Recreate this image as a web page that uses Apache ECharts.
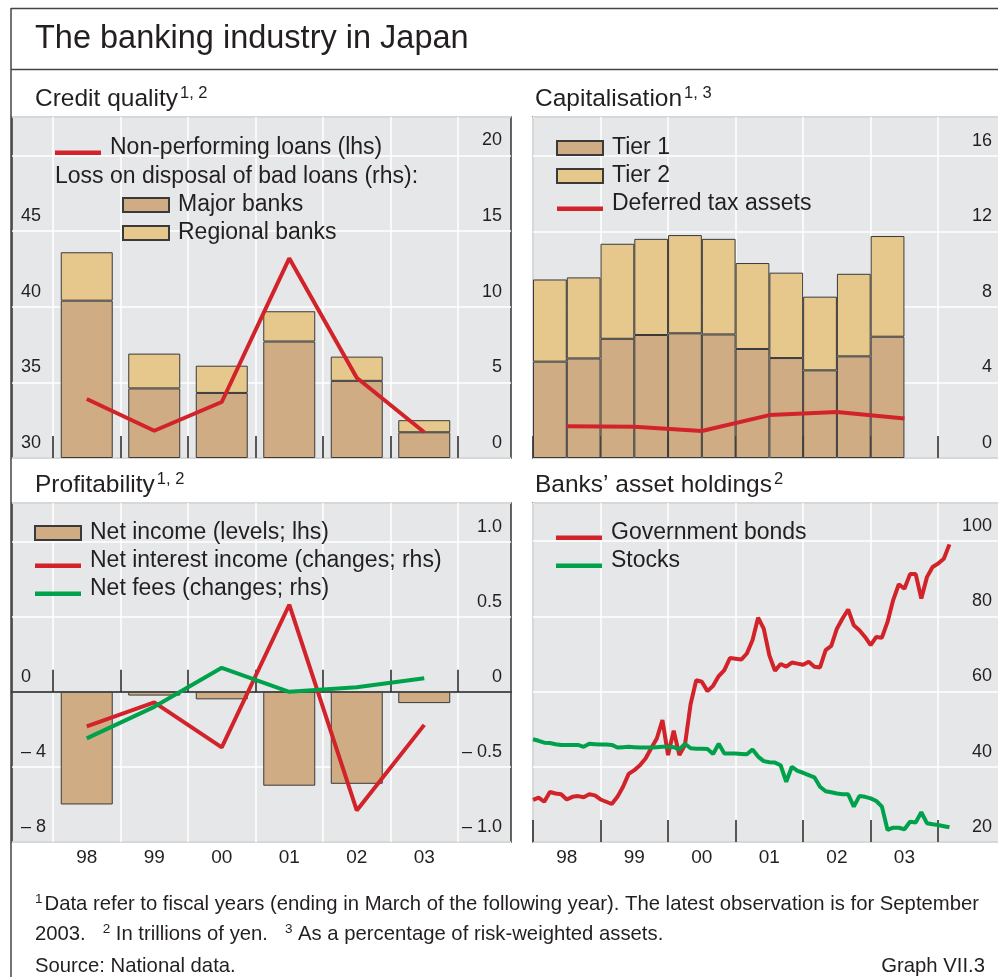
<!DOCTYPE html>
<html>
<head>
<meta charset="utf-8">
<script src="https://cdn.jsdelivr.net/npm/echarts@6/dist/echarts.min.js"></script>
<style>
html,body{margin:0;padding:0;background:#fff;}
#chart{width:998px;height:977px;}
</style>
</head>
<body>
<div id="chart"></div>
<script>
// ---------------- DATA ----------------
// Credit quality (fiscal years)
const years = ['98', '99', '00', '01', '02', '03'];
const majorBanksLoss = [10.4, 4.6, 4.3, 7.7, 5.1, 1.7];      // rhs, trillions of yen
const regionalBanksLoss = [3.2, 2.3, 1.8, 2.0, 1.6, 0.8];    // rhs
const nonPerformingLoans = [33.9, 31.8, 33.7, 43.2, 35.3, 31.7]; // lhs

// Capitalisation (half-years, % of risk-weighted assets)
const halfYears = ['98a', '98b', '99a', '99b', '00a', '00b', '01a', '01b', '02a', '02b', '03a'];
const tier1 = [5.10, 5.27, 6.31, 6.51, 6.60, 6.54, 5.77, 5.29, 4.64, 5.38, 6.42];
const tier2 = [4.35, 4.29, 5.03, 5.09, 5.20, 5.06, 4.55, 4.52, 3.90, 4.37, 5.33];
const deferredTaxAssets = [1.68, 1.65, 1.43, 2.27, 2.44, 2.09]; // fiscal 98..03

// Profitability
const netIncome = [-6.0, -0.2, -0.4, -5.0, -4.9, -0.6];          // lhs levels
const netInterestIncome = [-0.23, -0.07, -0.37, 0.58, -0.79, -0.22]; // rhs changes
const netFees = [-0.31, -0.10, 0.16, 0.00, 0.03, 0.09];          // rhs changes

// Banks' asset holdings (monthly, Jan 1998 - Mar 2004)
const governmentBonds = [31.2,31.8,30.7,33.3,32.9,32.7,31.3,32.0,32.2,31.9,32.7,32.4,
  31.3,30.7,30.1,32.0,34.7,38.1,39.1,40.4,42.2,44.9,47.5,52.4,
  43.1,49.6,43.1,45.8,56.6,63.0,62.6,60.1,61.5,64.1,65.7,68.9,
  68.7,68.5,70.1,73.6,79.6,76.7,69.6,65.5,67.3,66.6,67.7,67.4,
  67.1,67.9,66.6,66.4,71.0,72.1,76.7,79.4,81.8,77.6,76.3,74.5,
  72.3,74.5,74.3,78.5,84.3,88.5,87.3,91.2,91.2,84.7,90.4,93.1,
  94.0,95.3,99.1];
const stocks = [47.3,46.9,46.4,46.3,46.0,45.8,45.8,45.8,45.8,45.3,46.1,46.0,
  45.9,45.9,45.8,45.1,45.2,45.3,45.2,45.1,45.1,45.1,45.2,45.3,
  45.3,45.2,44.6,46.1,44.9,44.8,44.8,44.7,43.4,46.1,43.5,43.5,
  43.5,43.4,43.3,44.6,42.7,41.5,41.2,41.1,40.4,36.0,40.0,38.9,
  38.4,37.8,37.2,34.7,33.5,33.2,32.9,32.7,32.7,29.4,32.2,32.0,
  31.6,30.9,29.4,23.2,23.8,23.8,23.4,25.4,25.2,27.9,25.0,24.7,
  24.5,24.2,23.9];
const firstYear = 1998;

// ---------------- STYLE ----------------
const FONT = '"Liberation Sans", Arial, sans-serif';
const TXT = '#231F20';
const GREY = '#E6E7E8';
const BORDER = '#333333';
const RED = '#D2232A';
const GREEN = '#00A14B';
const TAN1 = '#CFAC84';
const TAN2 = '#E6C78C';
const BAR_EDGE = '#3a3a3a';
const WHITE_LINE = {show: true, lineStyle: {color: '#ffffff', width: 1.5}};
const TICK = {show: true, inside: true, length: 22, interval: 0, lineStyle: {color: '#222', width: 1.5}};
const LINE_ICON = 'path://M0,0M46,14M0,9.5H46V14H0Z';

const XMAX_R = 2004.93;
const R_LEFT = 533, R_WIDTH = 468;
const R_SLOT = R_WIDTH / (XMAX_R - firstYear);

function fmtSigned(v, dec) {
  if (Math.abs(v) < 1e-9) return '0';
  const s = Math.abs(v).toFixed(dec);
  return v < 0 ? '\u2013 ' + s : s;
}
function yLab(fmt) {
  return {show: true, inside: true, margin: 9, fontSize: 18, fontFamily: FONT, color: TXT,
          verticalAlign: 'bottom', lineHeight: 30, showMinLabel: true, formatter: fmt};
}
function boxGrid(left, top, width, height) {
  return {left, top, width, height, show: true, backgroundColor: GREY, borderColor: BORDER,
          borderWidth: 1.5, outerBoundsMode: 'none', containLabel: false};
}
function plainGrid(left, top, width, height) {
  return {left, top, width, height, show: false, outerBoundsMode: 'none', containLabel: false};
}
const noAxisParts = {axisLine: {show: false}, axisTick: {show: false}, splitLine: {show: false}};

const legendBase = {
  orient: 'vertical', itemWidth: 46, itemHeight: 14, itemGap: 0, icon: 'rect', selectedMode: false,
  padding: 0, textStyle: {fontSize: 23, fontFamily: FONT, color: TXT, lineHeight: 28, padding: [0, 0, 0, 4]}
};
const lineItem = name => ({name, icon: LINE_ICON, itemStyle: {borderWidth: 0}});
const barStyle = c => ({color: c, borderColor: BAR_EDGE, borderWidth: 1});
const lineSeries = (name, xi, yi, data, color, z) => ({
  type: 'line', name, xAxisIndex: xi, yAxisIndex: yi, data, symbol: 'none', z,
  lineStyle: {color, width: 4}, itemStyle: {color, borderWidth: 0}
});

const option = {
  animation: false,
  backgroundColor: '#ffffff',
  textStyle: {fontFamily: FONT},
  grid: [
    boxGrid(12, 117, 499, 341),          // 0 credit quality box
    plainGrid(53, 117, 405, 341),        // 1 credit quality data
    boxGrid(R_LEFT, 117, R_WIDTH, 341),  // 2 capitalisation box
    boxGrid(12, 503, 499, 339),          // 3 profitability box
    plainGrid(53, 503, 405, 339),        // 4 profitability data
    boxGrid(R_LEFT, 503, R_WIDTH, 339),  // 5 asset holdings
    plainGrid(R_LEFT, 117, R_SLOT * 6, 341) // 6 capitalisation bars (half-year slots)
  ],
  xAxis: [
    {type: 'value', gridIndex: 0, min: 0, max: 1, show: false},
    {type: 'category', gridIndex: 1, data: years, boundaryGap: true,
     axisLine: {show: false}, axisTick: TICK, axisLabel: {show: false},
     splitLine: Object.assign({interval: 0}, WHITE_LINE)},
    {type: 'value', gridIndex: 2, min: firstYear, max: XMAX_R, interval: 1,
     axisLine: {show: false}, axisTick: TICK, axisLabel: {show: false}, splitLine: WHITE_LINE},
    {type: 'value', gridIndex: 3, min: 0, max: 1,
     axisLine: {show: true, onZero: true, lineStyle: {color: '#1a1a1a', width: 1.5}},
     axisTick: {show: false}, axisLabel: {show: false}, splitLine: {show: false}},
    {type: 'category', gridIndex: 4, data: years, boundaryGap: true,
     axisLine: {show: false}, axisTick: TICK,
     axisLabel: {show: true, interval: 0, margin: 6, fontSize: 19, fontFamily: FONT, color: TXT},
     splitLine: Object.assign({interval: 0}, WHITE_LINE)},
    {type: 'value', gridIndex: 5, min: firstYear, max: XMAX_R, interval: 1,
     axisLine: {show: false}, axisTick: TICK, splitLine: WHITE_LINE,
     axisLabel: {show: true, margin: 6, fontSize: 19, fontFamily: FONT, color: TXT,
       padding: [0, 0, 0, R_SLOT],
       formatter: v => (Math.abs(v - Math.round(v)) < 1e-6 && v < 2004) ? String(Math.round(v)).slice(2) : ''}},
    {type: 'category', gridIndex: 6, data: halfYears.concat(['']), boundaryGap: true, show: false}
  ],
  yAxis: [
    // 0,1 credit quality box axes
    Object.assign({type: 'value', gridIndex: 0, position: 'left', min: 30, max: 52.54, interval: 5,
      axisLabel: yLab(v => v <= 45 ? String(v) : '')}, noAxisParts),
    Object.assign({type: 'value', gridIndex: 0, position: 'right', min: 0, max: 22.54, interval: 5,
      axisLabel: yLab(v => v <= 20 ? String(v) : '')}, noAxisParts, {splitLine: WHITE_LINE}),
    // 2,3 credit quality data axes (hidden)
    {type: 'value', gridIndex: 1, min: 30, max: 52.54, show: false},
    {type: 'value', gridIndex: 1, min: 0, max: 22.54, show: false},
    // 4 capitalisation
    Object.assign({type: 'value', gridIndex: 2, position: 'right', min: 0, max: 18.05, interval: 4,
      axisLabel: yLab(v => v <= 16 ? String(v) : '')}, noAxisParts, {splitLine: WHITE_LINE}),
    // 5,6 profitability box axes
    Object.assign({type: 'value', gridIndex: 3, position: 'left', min: -8, max: 10.06, interval: 4,
      axisLabel: yLab(v => v <= 0 ? fmtSigned(v, 0) : '')}, noAxisParts),
    Object.assign({type: 'value', gridIndex: 3, position: 'right', min: -1, max: 1.2575, interval: 0.5,
      axisLabel: yLab(v => v <= 1.0001 ? fmtSigned(v, 1) : '')}, noAxisParts, {splitLine: WHITE_LINE}),
    // 7,8 profitability data axes (hidden)
    {type: 'value', gridIndex: 4, min: -8, max: 10.06, show: false},
    {type: 'value', gridIndex: 4, min: -1, max: 1.2575, show: false},
    // 9 asset holdings
    Object.assign({type: 'value', gridIndex: 5, position: 'right', min: 20, max: 110.1, interval: 20,
      axisLabel: yLab(v => v <= 100 ? String(v) : '')}, noAxisParts, {splitLine: WHITE_LINE}),
    // 10 capitalisation bars (hidden, same scale as 4)
    {type: 'value', gridIndex: 6, min: 0, max: 18.05, show: false}
  ],
  legend: [
    Object.assign({}, legendBase, {left: 55, top: 134, data: [lineItem('Non-performing loans (lhs)')]}),
    Object.assign({}, legendBase, {left: 122, top: 191, data: ['Major banks', 'Regional banks']}),
    Object.assign({}, legendBase, {left: 556, top: 134, data: ['Tier 1', 'Tier 2', lineItem('Deferred tax assets')]}),
    Object.assign({}, legendBase, {left: 34, top: 519, data: ['Net income (levels; lhs)',
      lineItem('Net interest income (changes; rhs)'), lineItem('Net fees (changes; rhs)')]}),
    Object.assign({}, legendBase, {left: 556, top: 519, data: [lineItem('Government bonds'), lineItem('Stocks')]})
  ],
  series: [
    {type: 'bar', name: 'Major banks', xAxisIndex: 1, yAxisIndex: 3, stack: 'loss', barWidth: '77%',
     data: majorBanksLoss, itemStyle: barStyle(TAN1)},
    {type: 'bar', name: 'Regional banks', xAxisIndex: 1, yAxisIndex: 3, stack: 'loss', barWidth: '77%',
     data: regionalBanksLoss, itemStyle: barStyle(TAN2)},
    lineSeries('Non-performing loans (lhs)', 1, 2, nonPerformingLoans, RED, 3),

    {type: 'bar', name: 'Tier 1', xAxisIndex: 6, yAxisIndex: 10, stack: 'cap', barWidth: '100%',
     data: tier1, itemStyle: barStyle(TAN1)},
    {type: 'bar', name: 'Tier 2', xAxisIndex: 6, yAxisIndex: 10, stack: 'cap', barWidth: '100%',
     data: tier2, itemStyle: barStyle(TAN2)},
    lineSeries('Deferred tax assets', 2, 4, deferredTaxAssets.map((v, i) => [firstYear + 0.5 + i, v]), RED, 3),

    {type: 'bar', name: 'Net income (levels; lhs)', xAxisIndex: 4, yAxisIndex: 7, barWidth: '77%',
     data: netIncome, itemStyle: barStyle(TAN1)},
    lineSeries('Net interest income (changes; rhs)', 4, 8, netInterestIncome, RED, 3),
    lineSeries('Net fees (changes; rhs)', 4, 8, netFees, GREEN, 4),

    lineSeries('Government bonds', 5, 9, governmentBonds.map((v, i) => [firstYear + i / 12, v]), RED, 3),
    lineSeries('Stocks', 5, 9, stocks.map((v, i) => [firstYear + i / 12, v]), GREEN, 4)
  ],
  graphic: [
    {type: 'line', silent: true, shape: {x1: 11, y1: 8, x2: 11, y2: 977}, style: {stroke: '#444', lineWidth: 1.5}},
    {type: 'line', silent: true, shape: {x1: 11, y1: 8.5, x2: 998, y2: 8.5}, style: {stroke: '#444', lineWidth: 1.5}},
    {type: 'line', silent: true, shape: {x1: 11, y1: 69.5, x2: 998, y2: 69.5}, style: {stroke: '#444', lineWidth: 1.5}},
    {type: 'text', x: 35, y: 39.5, silent: true, z: 10,
     style: {text: 'The banking industry in Japan', fontSize: 32.5, fontFamily: FONT, fill: TXT, verticalAlign: 'middle'}},
    ...[['Credit quality', '1, 2', 35, 99], ['Capitalisation', '1, 3', 535, 99],
        ['Profitability', '1, 2', 35, 485], ['Banks\u2019 asset holdings', '2', 535, 485]].map(t => ({
      type: 'text', x: t[2], y: t[3], silent: true, z: 10,
      style: {text: '{m|' + t[0] + '}{s|' + t[1] + '}', fontFamily: FONT, fill: TXT, verticalAlign: 'middle',
        rich: {m: {fontSize: 24.5, lineHeight: 28, fontFamily: FONT, fill: TXT},
               s: {fontSize: 16.5, lineHeight: 27, verticalAlign: 'top', fontFamily: FONT, fill: TXT, padding: [0, 0, 0, 2]}}}
    })),
    {type: 'text', x: 55, y: 177, silent: true, z: 10,
     style: {text: 'Loss on disposal of bad loans (rhs):', fontSize: 23, fontFamily: FONT, fill: TXT, verticalAlign: 'middle'}},
    {type: 'text', x: 35, y: 904, silent: true, z: 10,
     style: {text: '{s|1}{n|Data refer to fiscal years (ending in March of the following year). The latest observation is for September}',
       fontFamily: FONT, fill: TXT, verticalAlign: 'middle',
       rich: {n: {fontSize: 20.3, lineHeight: 24, fontFamily: FONT, fill: TXT},
              s: {fontSize: 13.5, lineHeight: 19, verticalAlign: 'top', fontFamily: FONT, fill: TXT, padding: [0, 2, 0, 0]}}}},
    {type: 'text', x: 35, y: 934, silent: true, z: 10,
     style: {text: '{n|2003.   }{s|2}{n| In trillions of yen.   }{s|3}{n| As a percentage of risk-weighted assets.}',
       fontFamily: FONT, fill: TXT, verticalAlign: 'middle',
       rich: {n: {fontSize: 20.3, lineHeight: 24, fontFamily: FONT, fill: TXT},
              s: {fontSize: 13.5, lineHeight: 19, verticalAlign: 'top', fontFamily: FONT, fill: TXT}}}},
    {type: 'text', x: 35, y: 966, silent: true, z: 10,
     style: {text: 'Source: National data.', fontSize: 20.3, fontFamily: FONT, fill: TXT, verticalAlign: 'middle'}},
    {type: 'text', x: 985, y: 966, silent: true, z: 10,
     style: {text: 'Graph VII.3', fontSize: 20.3, fontFamily: FONT, fill: TXT, verticalAlign: 'middle', align: 'right'}}
  ]
};

const chart = echarts.init(document.getElementById('chart'), null, {renderer: 'canvas'});
chart.setOption(option);
</script>
</body>
</html>
